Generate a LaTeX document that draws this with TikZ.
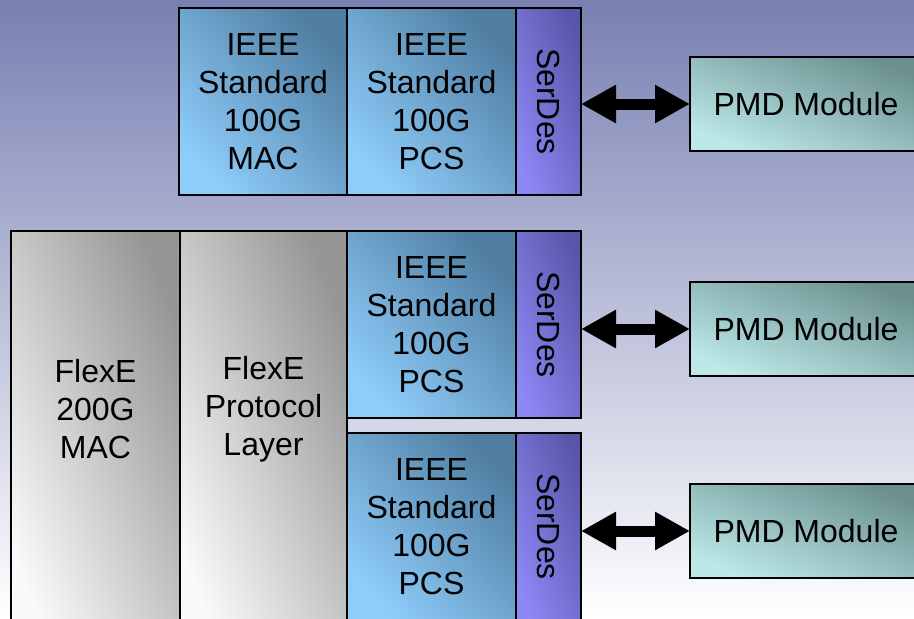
\documentclass[tikz,border=0pt]{standalone}
\usepackage{fontspec}
\setmainfont{Liberation Sans}
\usetikzlibrary{arrows.meta,positioning}

\definecolor{bgtop}{RGB}{120,128,178}
\definecolor{ieeelight}{RGB}{142,204,250}
\definecolor{ieeedark}{RGB}{80,126,162}
\definecolor{serlight}{RGB}{142,136,246}
\definecolor{serdark}{RGB}{88,86,168}
\definecolor{greylight}{RGB}{250,250,250}
\definecolor{greydark}{RGB}{150,150,150}
\definecolor{pmdlight}{RGB}{188,232,232}
\definecolor{pmddark}{RGB}{108,144,144}

\begin{document}
\begin{tikzpicture}[
    x=1pt, y=-1pt,
    node distance=0pt and 0pt,
    box/.style={
        draw,
        line width=2.2pt,
        outer sep=0pt,
        inner sep=0pt,
        align=center,
        anchor=north west,
        font=\fontsize{32}{38}\selectfont
    },
    ieeebox/.style={
        box,
        top color=ieeedark, bottom color=ieeelight, shading angle=-48,
        minimum width=169pt, minimum height=187pt
    },
    serdesbox/.style={
        box,
        top color=serdark, bottom color=serlight, shading angle=-71,
        minimum width=65pt, minimum height=187pt
    },
    greybox/.style={
        box,
        top color=greydark, bottom color=greylight, shading angle=-68,
        minimum width=169pt, minimum height=420pt
    },
    pmdbox/.style={
        box,
        top color=pmddark, bottom color=pmdlight, shading angle=-22,
        minimum width=232pt, minimum height=94pt
    },
    boxtext/.style={align=center, inner sep=0pt, font=\fontsize{32}{38}\selectfont},
    arrow/.style={{Triangle[length=35pt,width=36pt]}-{Triangle[length=35pt,width=36pt]}, line width=11pt}
]
\useasboundingbox (0,0) rectangle (914,619);
\clip (0,0) rectangle (914,619);
\shade[top color=bgtop, bottom color=white] (0,0) rectangle (914,619);

% plain 100G port
\node[ieeebox, minimum width=168pt] (mac0) at (179,8) {IEEE\\Standard\\100G\\MAC};
\node[ieeebox, right=of mac0] (pcs0) {IEEE\\Standard\\100G\\PCS};
\node[serdesbox, right=of pcs0] (serdes0) {\rotatebox{-90}{SerDes}};
\node[pmdbox] (pmd0) at (690,57) {PMD Module};

% FlexE 200G over two PHYs
\node[greybox] (flexmac) at (11,231) {};
\node[greybox, right=of flexmac, minimum width=167pt] (flexpl) {};
\node[boxtext] (flexmactxt) at ([yshift=-178pt]flexmac.north) {FlexE\\200G\\MAC};
\node[boxtext] (flexpltxt) at ([yshift=-178pt]flexpl.north) {FlexE\\Protocol\\Layer};
\node[ieeebox] (pcs1) at (flexpl.north east) {IEEE\\Standard\\100G\\PCS};
\node[serdesbox, right=of pcs1] (serdes1) {\rotatebox{-90}{SerDes}};
\node[ieeebox, below=15pt of pcs1] (pcs2) {IEEE\\Standard\\100G\\PCS};
\node[serdesbox, right=of pcs2] (serdes2) {\rotatebox{-90}{SerDes}};
\node[pmdbox] (pmd1) at (690,282) {PMD Module};
\node[pmdbox] (pmd2) at (690,484) {PMD Module};

\draw[arrow] (serdes0.east |- pmd0) -- (pmd0.west);
\draw[arrow] (serdes1.east |- pmd1) -- (pmd1.west);
\draw[arrow] (serdes2.east |- pmd2) -- (pmd2.west);
\end{tikzpicture}
\end{document}
